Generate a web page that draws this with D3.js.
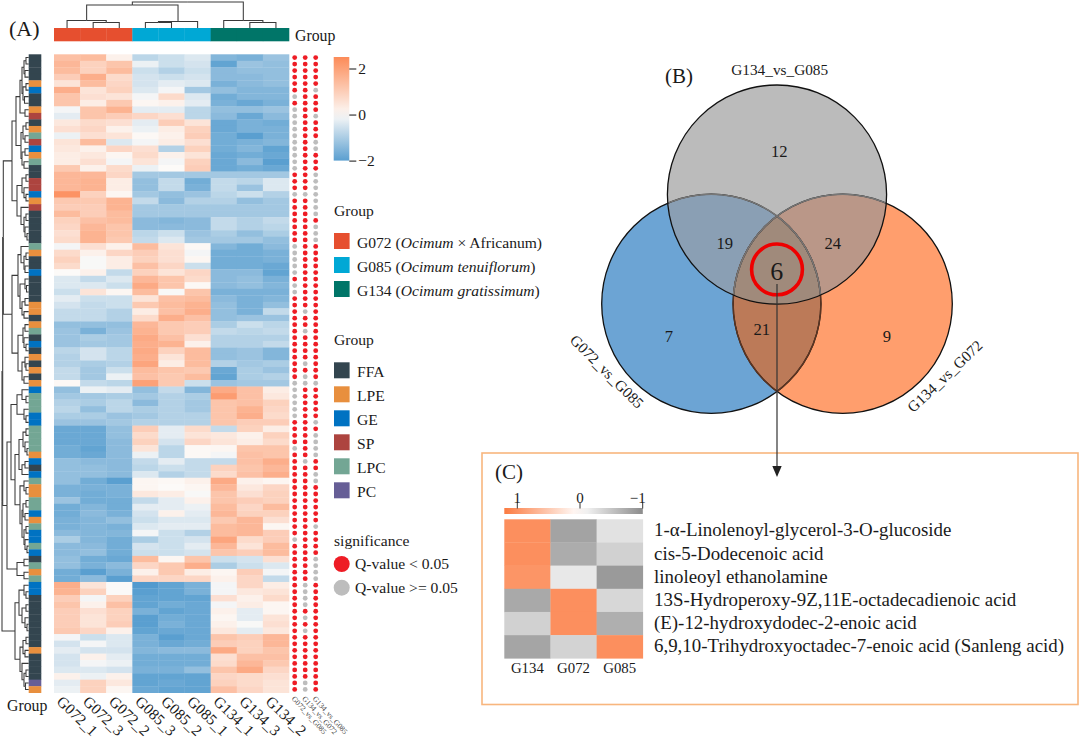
<!DOCTYPE html>
<html><head><meta charset="utf-8">
<script src="https://cdn.jsdelivr.net/npm/d3@7"></script>
<style>html,body{margin:0;background:#fff}svg{display:block}text{font-family:"Liberation Serif",serif;fill:#1a1a1a}</style>
</head><body><svg id="c" width="1080" height="740"></svg>
<script>
const sampleNames=["G072_1","G072_3","G072_2","G085_3","G085_2","G085_1","G134_1","G134_3","G134_2"];
const sampleGroups=["G072","G072","G072","G085","G085","G085","G134","G134","G134"];
const speciesLegend=[["G072","Ocimum"," × Africanum",""],["G085","","Ocimum tenuiflorum",""],["G134","","Ocimum gratissimum",""]];
const speciesColors={G072:"#E64F2F",G085:"#00A8D5",G134:"#007568"};
const classNames=["FFA","LPE","GE","SP","LPC","PC"];
const classColors=["#33454F","#E88F3E","#0072C2","#AD443F","#73A694","#665E96"];
const rowClasses=["FFA","FFA","FFA","FFA","LPE","GE","FFA","FFA","LPE","SP","FFA","LPE","LPC","SP","GE","LPE","LPC","FFA","FFA","SP","SP","GE","LPE","SP","FFA","FFA","FFA","FFA","FFA","LPC","LPE","FFA","FFA","GE","FFA","FFA","FFA","FFA","LPE","LPE","FFA","LPE","LPC","FFA","GE","FFA","LPE","FFA","LPE","FFA","LPE","GE","LPC","LPC","LPC","GE","GE","LPC","LPC","LPC","LPC","LPE","GE","FFA","GE","LPC","LPE","LPE","LPC","LPC","GE","LPE","LPC","GE","GE","LPC","GE","FFA","LPC","LPE","LPC","GE","GE","FFA","FFA","FFA","FFA","FFA","FFA","FFA","FFA","LPE","FFA","FFA","FFA","FFA","PC","LPE"];
const heatValues=[
[1.3,1.4,.2,-.8,-.6,-.4,-1.5,-1.6,-1.2],
[1.5,.9,1.2,-.2,-.6,-.5,-1.9,-1.2,-1.3],
[1.4,.9,1.4,-.6,-.9,-.6,-1.4,-1.3,-1.3],
[1,1.7,.7,-.5,-.6,-.5,-1.4,-1.4,-1.3],
[.5,1.4,.8,-.5,-.3,-.4,-1.6,-1.4,-1.3],
[1.7,.5,.9,-.4,-.1,-1.1,-1.3,-1.5,-1.5],
[1.2,.6,.5,-.1,.7,-.4,-1.7,-1.5,-1.5],
[1.2,.3,1.1,.1,.2,-.3,-1.6,-1.8,-1.6],
[-.1,1.2,1.6,-.3,-.3,-.8,-1.3,-1.3,-1.2],
[-.3,1.2,1,.8,.6,-.8,-1.4,-1.8,-1.4],
[.4,.7,.6,-.3,1,.5,-1.8,-1.6,-1.7],
[.6,.8,.2,-.2,.3,.9,-1.8,-1.6,-1.6],
[-.2,.6,.5,.05,.2,1,-1.7,-2,-1.6],
[.5,1.4,-.4,-.1,.3,.6,-1.7,-1.6,-1.5],
[.4,.2,.8,.6,-.9,.9,-1.7,-1.5,-1.9],
[.3,.4,.1,.7,.2,.5,-1.8,-1.7,-1.8],
[.3,.6,-.1,.5,-.1,.9,-1.8,-1.4,-2],
[1.1,.2,.7,-.2,0,1,-1.8,-1.7,-1.8],
[1.5,1.5,.8,-1.1,-1.1,-1.1,-1.1,-1.1,-1.1],
[1.5,1.6,.3,-1.3,-.7,-1.7,-.7,-.8,-.4],
[1.5,1.6,.3,-1.3,-.7,-1.6,-.7,-1.2,-.4],
[2.3,.9,.1,-1.1,-1.3,-1.2,-.8,-.6,-.9],
[1.1,1.1,1.6,-.7,-1.4,-.9,-.9,-1.3,-1.1],
[1,1,1.6,-1.1,-1.1,-1.1,-1.1,-1.1,-1.1],
[1.4,1,1.4,-1.1,-1.1,-1.1,-1.1,-1.1,-1.1],
[.9,1.3,1.4,-1.4,-1.5,-1.4,-.7,-.9,-.7],
[.8,1.5,1.2,-1.4,-1.4,-1.4,-.7,-.9,-.8],
[.6,1.6,1.2,-.8,-.6,-1.2,-1,-1.3,-1],
[.7,1.6,1.1,-.7,-.4,-1.1,-1.1,-1.1,-1.3],
[-.1,.6,.2,1.4,.5,.05,-1.5,-1.7,-1.4],
[.7,.2,.8,1,.6,-.1,-1.7,-1.7,-1.6],
[.9,-.05,.3,.9,.6,.1,-1.7,-1.7,-1.6],
[.7,-.05,.3,1.3,.8,-.6,-1.7,-1.7,-1.8],
[0,.2,-.7,.9,.5,.8,-1.4,-1.4,-1.9],
[-.4,-.7,-.4,1.5,1.2,.7,-1.4,-1.3,-1.6],
[-.4,-.4,-.6,1.8,1.2,.05,-1.4,-1.3,-1.5],
[-.6,.5,.1,1.4,-.05,1.2,-1.6,-1.6,-1.6],
[-.3,-.6,-.6,.5,1.3,1.4,-1.4,-1.6,-1.5],
[-.5,-.7,-.6,1.1,1.4,1.6,-1.3,-1.6,-1.3],
[-.7,-.7,-.9,.3,1.3,1.7,-1.3,-1.6,-.7],
[-.7,-.7,-.9,.7,1.7,1.3,-1.3,-1.2,-1.2],
[-1.3,-1.3,-1.3,1.5,1.1,1,-1,-.6,-.8],
[-1.2,-1.6,-1.2,1.6,1.1,1,-.7,-.8,-.7],
[-1.2,-1,-1.1,1.8,1.3,.6,-.9,-.9,-.9],
[-1.2,-1.1,-1.1,1.7,1.6,.2,-.9,-.9,-.7],
[-.8,-.5,-.8,1.8,.9,1.4,-1.3,-1.2,-1.5],
[-.9,-.5,-.8,1.7,.5,1.4,-1.3,-1.2,-1.5],
[-.9,-1,-.9,1.9,.3,1.4,-.9,-1.1,-1],
[-.7,-1.1,-.6,1.4,1.2,1.1,-1.8,-1,-1.2],
[-.7,-1.1,-.2,1.3,1.1,1.4,-1.9,-1,-.9],
[.05,-.7,-.8,2,1.1,-.6,-1.2,-1.1,-1.1],
[-1.3,-.2,-.3,-1.3,-.7,-1.5,1.8,1.3,.3],
[-1.1,-1.1,-1,-1.1,-.9,-1,2.1,1.3,.4],
[-.9,-1,-.8,-1.4,-.9,-1.1,1.2,1.3,.9],
[-.8,-1.3,-.8,-1,-.9,-1.1,1.2,1.6,.8],
[-1,-1,-1.2,-1.1,-.9,-.9,1.2,1.7,.7],
[-1.2,-1.2,-1.1,-.9,-.9,-.9,1.2,1,1],
[-1.8,-1.8,-1.3,1,-.3,.7,-.7,.9,.3],
[-1.8,-1.8,-1.3,.7,-.3,.5,.4,.2,.9],
[-1.8,-1.8,-1.4,.9,-.5,.8,.5,.3,.7],
[-1.7,-1.9,-1.4,.5,-.8,.05,.1,1.2,1.2],
[-1.7,-1.8,-1.4,-.2,-.8,.05,-.1,1.3,1.2],
[-1.3,-1.4,-1.4,-.7,-.3,-.7,-.7,1.3,1.7],
[-1.3,-1.3,-1.4,-.8,-.6,-.7,.9,1.2,1.5],
[-1.3,-1.3,-1.4,-.4,-.9,-.7,.7,1.3,1.7],
[-1.3,-1.7,-2,.1,.05,.2,1.8,.2,.1],
[-1.6,-1.6,-1.6,.1,0,.1,1.5,.4,.8],
[-1.6,-1.7,-1.6,.4,.3,-.05,1.2,.6,.9],
[-1.2,-1.7,-1.7,-.7,-.3,.2,1.2,1,.9],
[-1.7,-1.5,-1.7,-.3,-.3,-.2,1.4,.8,1.4],
[-1.7,-1.4,-1.6,-.5,.2,-.3,1.5,.9,.9],
[-1.6,-1.5,-1.3,-.6,-.4,-.4,1.1,1.5,.6],
[-1.6,-1.5,-1.6,-.4,-.3,-.3,1.4,1.5,.1],
[-1.4,-1.5,-1.5,-.1,-.6,-.9,1.4,1.5,1],
[-1,-1.5,-1.7,-1,-.6,-.5,1.9,.7,1],
[-1.4,-1.4,-1.7,-.5,-.6,-.3,1.5,.5,1.4],
[-1.4,-1.3,-1.7,-.6,-.6,-.5,1.2,1,1.4],
[-1.3,-1.7,-1.8,1.4,.1,1.2,-.6,-.5,.6],
[-1.3,-1.6,-1.4,.8,1.1,1.7,-1,-.6,-.4],
[-1.7,-2,-1.6,.2,1.1,.3,.1,1,-.1],
[-1.7,-1.4,-2,.8,.8,.8,.2,.8,-.7],
[1.7,.5,-.02,-2.1,-1.9,-1.6,-.1,.8,.3],
[1.6,.9,-.02,-2,-1.9,-1.6,-.1,.4,.5],
[1,-.1,.9,-1.9,-1.9,-1.9,.6,.2,.7],
[1.2,.2,1.3,-1.9,-1.7,-1.8,-.1,.3,.1],
[1,.6,.9,-1.6,-1.9,-1.8,.2,-.3,.1],
[1,.5,.9,-2,-1.7,-1.8,.1,-.3,.5],
[1,.5,1,-2,-1.6,-1.8,.2,-.05,.6],
[1.1,.8,.2,-1.9,-1.8,-1.8,.4,-.3,.4],
[-.1,-.6,-.4,-1.6,-2,-1.8,1.2,1,1.5],
[-.5,-.1,-.4,-1.6,-1.8,-1.7,1,.9,1.5],
[-.3,-.5,-.5,-1.5,-1.4,-1.4,1.8,.9,1.2],
[-.5,.2,-.3,-1.7,-1.7,-1.7,.6,1.3,1.3],
[-.5,-.1,-.2,-1.7,-1.7,-1.7,.7,1.5,1.1],
[-.4,-.4,-.5,-1.6,-1.6,-1.3,1.2,1.8,.8],
[.2,-.2,.2,-1.9,-1.9,-1.9,.8,.7,.6],
[-.3,.9,.4,-1.9,-1.8,-1.9,.9,.7,.5],
[-.2,.9,.1,-1.8,-1.9,-1.9,1.3,.8,.5]];
const sigNames=["G072_vs_G085","G134_vs_G072","G134_vs_G085"];
const sig1=[1,1,1,1,1,1,0,1,0,0,0,0,0,0,0,0,0,0,1,1,1,0,1,1,1,1,1,1,1,0,0,0,0,0,1,0,0,1,1,1,1,1,1,1,1,1,1,1,1,1,0,0,0,0,0,0,1,1,1,1,0,1,1,1,1,1,1,1,1,1,1,1,1,1,0,1,1,1,1,1,1,1,1,1,1,1,1,1,1,1,1,1,1,1,1,1,1,1];
const sig2=[1,1,1,1,1,1,1,1,1,1,1,1,1,1,1,1,1,1,1,1,1,0,1,1,1,1,1,1,1,1,1,1,1,1,1,1,1,1,1,0,1,1,0,1,1,1,1,0,1,0,0,1,1,1,1,1,1,1,1,1,1,1,0,1,1,1,1,1,1,1,1,1,1,1,1,1,1,1,1,1,1,0,0,0,0,1,0,1,0,1,1,1,1,1,1,1,0,0];
const sig3=[1,1,1,1,1,0,1,1,1,0,1,1,1,0,0,1,1,1,0,0,0,0,0,0,0,1,0,0,0,1,1,1,1,1,1,1,1,1,1,1,1,1,1,1,1,1,1,1,1,1,0,1,1,1,1,1,0,1,0,0,0,0,1,1,0,0,1,1,1,1,1,1,0,1,1,1,1,0,0,0,0,1,1,1,1,1,1,1,1,1,1,1,1,1,1,1,1,1];
const colTree=[2,[5,[20.5,0,[22.5,0,0]],[21.5,[22.5,0,0],0]],[20.5,0,[22.5,0,0]]];
const clusterA=[16,[20,[22,[24,[26,0,0],[25,0,0]],[23,[26,0,0],[24.5,0,0]]],[25,0,0]],[21,[23,[26,0,0],[25,0,0]],[22,[25,0,0],[24,0,0]]]];
const clusterB=[17,[22,[26,0,0],[24,0,[26,0,0]]],[21,0,[24,[26,0,0],[25,0,[27,0,0]]]]];
const clusterC=[18,[21,0,[24,[26,0,0],[25,0,0]]],[20,[25,0,[26.5,0,0]],[22,[25,0,0],[24,0,0]]]];
const clusterD=[18,[23,[25,0,0],[24,0,[26,0,0]]],[22,[25,0,[26,0,0]],[24,0,0]]];
const clusterE=[17,[22,0,[26,0,0]],[24,0,[26,0,0]]];
const clusterF=[15,[19,[23,[26,0,0],[25,0,[27,0,0]]],[22,[25,0,0],0]],[20,[24,0,[26,0,0]],[22,[23,[26,0,0],[25,0,0]],[24,[26,0,0],[25,0,[27,0,0]]]]]];
const clusterG=[17,[24,0,0],[24,0,0]];
const clusterH=[19,[24,0,[26,0,0]],[22,[26,0,0],[25,0,[27,0,0]]]];
const clusterI=[20,[23,[26,0,0],[25,0,0]],[22,0,[24,[26,0,0],[25.5,0,0]]]];
const rowTree=[2,[2.7,[3.3,[12,clusterA,clusterB],[12,clusterC,clusterD]],[7,[11,clusterE,clusterF],clusterG]],[15,clusterH,clusterI]];
const cbTicks=[2,0,-2];
const vennLabels=[["G134_vs_G085",779.7,75,0],["G072_vs_G085",603.2,375.2,45],["G134_vs_G072",948.5,380,-43.5]];
const vennCounts=[["12",779.3,151],["19",724.7,243.5],["24",832.7,243.5],["7",669,336],["9",887,336],["21",761.7,329.5]];
const cNames=["G134","G072","G085"];
const cLabels=["1-α-Linolenoyl-glycerol-3-O-glucoside","cis-5-Dodecenoic acid","linoleoyl ethanolamine","13S-Hydroperoxy-9Z,11E-octadecadienoic acid","(E)-12-hydroxydodec-2-enoic acid","6,9,10-Trihydroxyoctadec-7-enoic acid (Sanleng acid)"];
const cValues=[[1,-.8,-.25],[1,-.72,-.4],[.95,-.2,-.88],[-.75,1,-.35],[-.4,1,-.7],[-.78,-.38,1]];
const cTicks=[1,0,-1];

const svg=d3.select("#c");
const hmL=54,hmR=289,hmT=54.3,hmB=692.7;
const x=d3.scaleBand().domain(d3.range(9)).range([hmL,hmR]);
const y=d3.scaleBand().domain(d3.range(heatValues.length)).range([hmT,hmB]);
const heat=d3.scaleLinear().domain([-2,0,2.4]).range(["#5A9FD0","#FCFAF8","#FC8F5E"]);
function t(s,px,py,size,anchor){return s.append("text").attr("x",px).attr("y",py).attr("font-size",size).attr("text-anchor",anchor||"start");}

// heatmap
svg.append("g").selectAll("g").data(heatValues).join("g").attr("transform",(d,i)=>`translate(0,${y(i)})`)
 .selectAll("rect").data(d=>d).join("rect").attr("x",(d,j)=>x(j)).attr("width",x.bandwidth()+.3).attr("height",y.bandwidth()+.3).attr("fill",d=>heat(d));
// sample bar
svg.append("g").selectAll("rect").data(sampleGroups).join("rect").attr("x",(d,j)=>x(j)).attr("y",28).attr("width",x.bandwidth()+.3).attr("height",13.3).attr("fill",d=>speciesColors[d]);
t(svg,295,40.5,15.8).text("Group");
// class bar
const cls=d3.scaleOrdinal(classNames,classColors);
svg.append("g").selectAll("rect").data(rowClasses).join("rect").attr("x",28.7).attr("y",(d,i)=>y(i)).attr("width",12.6).attr("height",y.bandwidth()+.3).attr("fill",d=>cls(d));
t(svg,7,711,15.8).text("Group");

// dendrograms
function layout(tree){
 const root=d3.hierarchy(tree,d=>Array.isArray(d)?d.slice(1):null);
 let k=0;root.eachAfter(n=>{if(n.children){n.pos=d3.mean(n.children,c=>c.pos);n.h=n.data[0];}else{n.pos=k++;n.h=null;}});
 return root;
}
const lc=d3.line();
const rt=layout(rowTree),rg=svg.append("g").attr("fill","none").attr("stroke","#3a3a3a").attr("stroke-width",1.05);
const leafX=28.7,ry=i=>y(Math.floor(i))+(i-Math.floor(i))*y.step()+y.bandwidth()/2;
rt.descendants().filter(n=>n.children).forEach(n=>{n.children.forEach(c=>{
 rg.append("path").attr("d",lc([[n.h,ry(n.pos)],[n.h,ry(c.pos)],[c.children?c.h:leafX,ry(c.pos)]]));});});
const ct=layout(colTree),cg=svg.append("g").attr("fill","none").attr("stroke","#3a3a3a").attr("stroke-width",1.05);
const cx=i=>x(Math.floor(i))+(i-Math.floor(i))*x.step()+x.bandwidth()/2;
ct.descendants().filter(n=>n.children).forEach(n=>{n.children.forEach(c=>{
 cg.append("path").attr("d",lc([[cx(n.pos),n.h],[cx(c.pos),n.h],[cx(c.pos),c.children?c.h:28]]));});});

// column labels
svg.append("g").selectAll("text").data(sampleNames).join("text").attr("font-size",15.4)
 .attr("transform",(d,j)=>`translate(${x(j)+1.8},${702.4}) rotate(44)`).text(d=>d);

// significance dots
const sigX=d3.scalePoint().domain(sigNames).range([294.7,315.7]);
[sig1,sig2,sig3].forEach((col,k)=>{
 svg.append("g").selectAll("circle").data(col).join("circle").attr("cx",sigX(sigNames[k])).attr("cy",(d,i)=>y(i)+y.bandwidth()/2).attr("r",2.4).attr("fill",d=>d?"#EE1C25":"#BDBDBD");
});
svg.append("g").selectAll("text").data(sigNames).join("text").attr("font-size",7.6).style("fill","#444")
 .attr("transform",(d,k)=>`translate(${sigX(d)-3.5},${699}) rotate(48)`).text(d=>d);

// colour bar
const cbS=d3.scaleLinear().domain([-2,2.5]).range([160.6,57]);
const defs=svg.append("defs");
const g1=defs.append("linearGradient").attr("id","cb").attr("x1",0).attr("x2",0).attr("y1",1).attr("y2",0);
d3.range(0,1.001,.1).forEach(o=>g1.append("stop").attr("offset",o).attr("stop-color",heat(-2+4.5*o)));
svg.append("rect").attr("x",333.7).attr("y",57).attr("width",15.6).attr("height",103.6).attr("fill","url(#cb)");
const cbAxis=d3.axisRight(cbS).tickValues(cbTicks).tickSize(7).tickFormat(d=>d<0?"−"+(-d):d);
const cbG=svg.append("g").attr("transform","translate(349.3,0)").call(cbAxis);
cbG.select(".domain").remove();cbG.selectAll("line").attr("stroke","#111");
cbG.selectAll("text").attr("font-size",15.5).attr("font-family","Liberation Serif").attr("x",9).attr("fill","#1a1a1a");

// legends
t(svg,334,216,15.6).text("Group");
const spY=d3.scalePoint().domain(speciesLegend.map(d=>d[0])).range([233,281]);
speciesLegend.forEach(d=>{
 svg.append("rect").attr("x",334).attr("y",spY(d[0])).attr("width",15.6).attr("height",16).attr("fill",speciesColors[d[0]]);
 const tx=t(svg,357,spY(d[0])+14.5,15.6);
 tx.append("tspan").text(d[0]+" (");
 if(d[1]){tx.append("tspan").attr("font-style","italic").text(d[1]);tx.append("tspan").text(d[2]+")");}
 else tx.append("tspan").attr("font-style","italic").text(d[2]),tx.append("tspan").text(")");
});
t(svg,334,345,15.6).text("Group");
const clY=d3.scalePoint().domain(classNames).range([362.3,482.3]);
classNames.forEach((c,i)=>{
 svg.append("rect").attr("x",334).attr("y",clY(c)).attr("width",15.6).attr("height",16).attr("fill",classColors[i]);
 t(svg,357,clY(c)+14.5,15.6).text(c);
});
t(svg,334,546,15.6).text("significance");
[["#EE1C25","Q-value < 0.05",564],["#BDBDBD","Q-value >= 0.05",587.7]].forEach(d=>{
 svg.append("circle").attr("cx",341.7).attr("cy",d[2]).attr("r",8).attr("fill",d[0]);
 t(svg,355,d[2]+5,15.6).text(d[1]);
});
t(svg,9,36,22).text("(A)");
t(svg,665,83,21).text("(B)");
t(svg,495,479,21).text("(C)");

// venn
const R=109.6,cT=[777,194.6],cL=[711.3,303.8],cR=[842.7,303.8];
defs.append("clipPath").attr("id","clT").append("circle").attr("cx",cT[0]).attr("cy",cT[1]).attr("r",R);
defs.append("clipPath").attr("id","clL").append("circle").attr("cx",cL[0]).attr("cy",cL[1]).attr("r",R);
defs.append("clipPath").attr("id","clR").append("circle").attr("cx",cR[0]).attr("cy",cR[1]).attr("r",R);
const v=svg.append("g");
const circ=(s,c,f)=>s.append("circle").attr("cx",c[0]).attr("cy",c[1]).attr("r",R).attr("fill",f);
circ(v,cT,"#BBBBBB");circ(v,cL,"#6CA4D4");circ(v,cR,"#FF9E6D");
circ(v.append("g").attr("clip-path","url(#clT)"),cL,"#8A9FB4");
circ(v.append("g").attr("clip-path","url(#clT)"),cR,"#BA9788");
circ(v.append("g").attr("clip-path","url(#clL)"),cR,"#BC7A58");
circ(v.append("g").attr("clip-path","url(#clT)").append("g").attr("clip-path","url(#clL)"),cR,"#A08A7B");
[cL,cR].forEach(c=>circ(v,c,"none").attr("stroke","#111").attr("stroke-width",1.3));
[cL,cR].forEach(c=>circ(v.append("g").attr("clip-path","url(#clT)"),c,"none").attr("stroke","#777").attr("stroke-width",1.5));
circ(v.append("g").attr("clip-path","url(#clL)"),cR,"none").attr("stroke","#5A3422").attr("stroke-width",1.5);
circ(v.append("g").attr("clip-path","url(#clR)"),cL,"none").attr("stroke","#5A3422").attr("stroke-width",1.5);
circ(v.append("g").attr("clip-path","url(#clT)").append("g").attr("clip-path","url(#clL)"),cR,"none").attr("stroke","#777").attr("stroke-width",1.5);
circ(v.append("g").attr("clip-path","url(#clT)").append("g").attr("clip-path","url(#clR)"),cL,"none").attr("stroke","#777").attr("stroke-width",1.5);
circ(v,cT,"none").attr("stroke","#111").attr("stroke-width",1.3);
vennCounts.forEach(d=>t(v,d[1],d[2]+5.5,16.6,"middle").text(d[0]));
vennLabels.forEach(d=>v.append("text").attr("font-size",15.3).attr("text-anchor","middle").attr("transform",`translate(${d[1]},${d[2]}) rotate(${d[3]})`).text(d[0]));
v.append("circle").attr("cx",777).attr("cy",269.4).attr("r",25.4).attr("fill","none").attr("stroke","#EE0000").attr("stroke-width",3.6);
t(v,776.7,279.5,26,"middle").text("6");

// box C
svg.append("rect").attr("x",482).attr("y",453).attr("width",596).attr("height",251.5).attr("fill","none").attr("stroke","#F8B67E").attr("stroke-width",1.6);
// arrow
svg.append("line").attr("x1",777).attr("x2",777).attr("y1",284).attr("y2",467).attr("stroke","#333").attr("stroke-width",1.2);
svg.append("path").attr("d",d3.line()([[772.3,466],[781.7,466],[777,477]])).attr("fill","#222");

// panel C heatmap
const cX=d3.scaleBand().domain(cNames).range([504.3,642.8]);
const cY=d3.scaleBand().domain(d3.range(6)).range([519.3,658.3]);
const cCol=d3.scaleLinear().domain([-1,0,1]).range(["#8C8C8C","#FFFFFF","#FC8F5E"]);
svg.append("g").selectAll("g").data(cValues).join("g").attr("transform",(d,i)=>`translate(0,${cY(i)})`)
 .selectAll("rect").data(d=>d).join("rect").attr("x",(d,j)=>cX(cNames[j])).attr("width",cX.bandwidth()+.3).attr("height",cY.bandwidth()+.3).attr("fill",d=>cCol(d));
const cS=d3.scaleLinear().domain([1,-1]).range([516.8,642.2]);
const g2=defs.append("linearGradient").attr("id","cb2");
d3.range(0,1.001,.1).forEach(o=>g2.append("stop").attr("offset",o).attr("stop-color",cCol(1.18-2.18*o)));
svg.append("rect").attr("x",504.3).attr("y",508).attr("width",138.5).attr("height",6).attr("fill","url(#cb2)");
const cAx=d3.axisTop(cS).tickValues(cTicks).tickSize(6).tickFormat(d=>d<0?"−"+(-d):d);
const cAg=svg.append("g").attr("transform","translate(0,508.5)").call(cAx);
cAg.select(".domain").remove();cAg.selectAll("line").attr("stroke","#333");
cAg.selectAll("text").attr("font-size",15).attr("font-family","Liberation Serif").attr("y",-6).attr("fill","#1a1a1a");
cAg.selectAll("text").filter(d=>d<0).attr("text-anchor","end").attr("dx",3);
svg.append("g").selectAll("text").data(cNames).join("text").attr("font-size",14.8).attr("text-anchor","middle").attr("x",d=>cX(d)+cX.bandwidth()/2).attr("y",673).text(d=>d);
svg.append("g").selectAll("text").data(cLabels).join("text").attr("font-size",18.9).attr("x",654).attr("y",(d,i)=>cY(i)+cY.bandwidth()/2+5.5).text(d=>d);
</script></body></html>
